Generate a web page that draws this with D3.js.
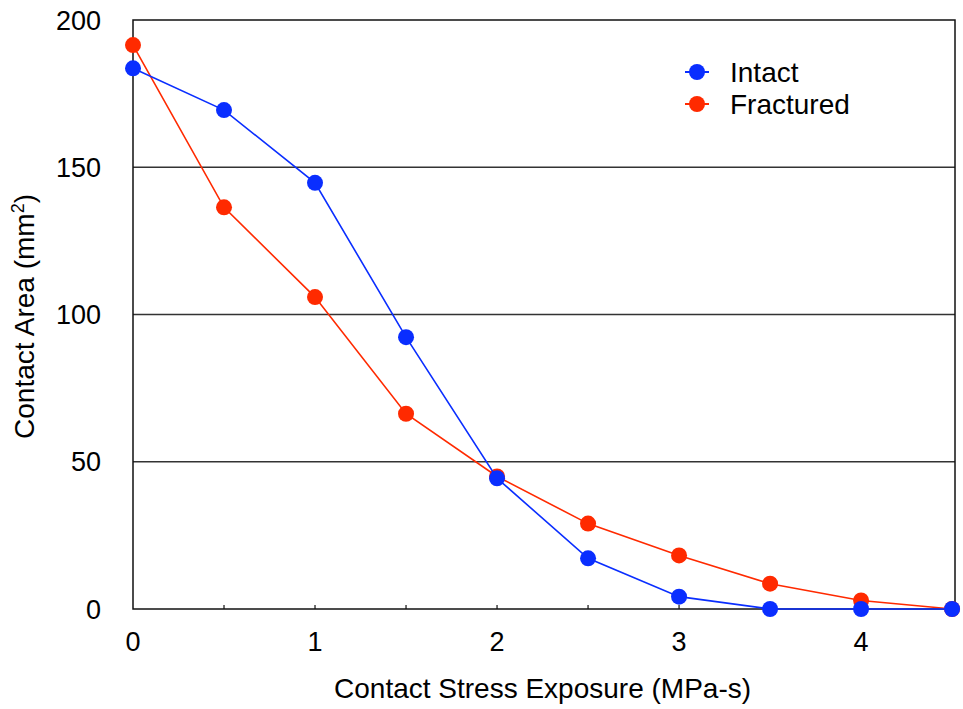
<!DOCTYPE html>
<html>
<head>
<meta charset="utf-8">
<script src="https://cdn.jsdelivr.net/npm/d3@7"></script>
<style>
  body { margin: 0; background: #fff; }
  text { font-family: Arial, "Liberation Sans", sans-serif; fill: #000; }
</style>
</head>
<body>
<svg id="chart" width="963" height="709"></svg>
<script>
const exposure = [0, 0.5, 1, 1.5, 2, 2.5, 3, 3.5, 4, 4.5];
const intact = [183.6, 169.4, 144.7, 92.3, 44.4, 17.2, 4.2, 0, 0, 0];
const fractured = [191.5, 136.4, 105.9, 66.3, 45, 29, 18.2, 8.6, 2.9, 0];
const xTicks = [0, 1, 2, 3, 4];
const yTicks = [0, 50, 100, 150, 200];
const seriesNames = ["Intact", "Fractured"];

const svg = d3.select("#chart"),
    margin = { top: 20, left: 133 },
    chartWidth = 822,
    chartHeight = 589;

const chart = svg.append("g")
    .attr("transform", `translate(${margin.left},${margin.top})`);

const x = d3.scaleLinear().domain([0, 4.516]).range([0, chartWidth]);
const y = d3.scaleLinear().domain([0, 200]).range([chartHeight, 0]);

const color = d3.scaleOrdinal().domain(seriesNames).range(["#0a2eff", "#ff2a00"]);

// gridlines
chart.append("g")
    .selectAll("line")
    .data(yTicks.filter(d => d > 0 && d < 200))
    .join("line")
    .attr("x1", 0).attr("x2", chartWidth)
    .attr("y1", d => y(d)).attr("y2", d => y(d))
    .attr("stroke", "#333").attr("stroke-width", 1.5);

// frame
chart.append("rect")
    .attr("width", chartWidth).attr("height", chartHeight)
    .attr("fill", "none").attr("stroke", "#111").attr("stroke-width", 1.5);

// minor x ticks (inside, every 0.5)
chart.append("g")
    .selectAll("line")
    .data(exposure.filter(d => d > 0))
    .join("line")
    .attr("x1", d => x(d)).attr("x2", d => x(d))
    .attr("y1", chartHeight).attr("y2", chartHeight - 4)
    .attr("stroke", "#111").attr("stroke-width", 1.2);

// tick labels
chart.append("g")
    .selectAll("text")
    .data(xTicks)
    .join("text")
    .attr("x", d => x(d))
    .attr("y", chartHeight + 42)
    .attr("text-anchor", "middle")
    .style("font-size", "27px")
    .text(d => d);

chart.append("g")
    .selectAll("text")
    .data(yTicks)
    .join("text")
    .attr("x", -32)
    .attr("y", d => y(d) + 9.5)
    .attr("text-anchor", "end")
    .style("font-size", "27px")
    .text(d => d);

// axis titles
chart.append("text")
    .attr("x", x(2.25))
    .attr("y", chartHeight + 89)
    .attr("text-anchor", "middle")
    .style("font-size", "28px")
    .text("Contact Stress Exposure (MPa-s)");

const yTitle = svg.append("text")
    .attr("transform", `translate(34,${margin.top + chartHeight / 2 + 2}) rotate(-90)`)
    .attr("text-anchor", "middle")
    .style("font-size", "28px");
yTitle.append("tspan").text("Contact Area (mm");
yTitle.append("tspan").attr("dy", -10).style("font-size", "18px").text("2");
yTitle.append("tspan").attr("dy", 10).text(")");

// series
const series = [
    { name: "Intact", values: intact },
    { name: "Fractured", values: fractured }
];

const line = d3.line()
    .x((d, i) => x(exposure[i]))
    .y(d => y(d));

// draw fractured first so intact sits on top
[series[1], series[0]].forEach(s => {
    chart.append("path")
        .datum(s.values)
        .attr("d", line)
        .attr("fill", "none")
        .attr("stroke", color(s.name))
        .attr("stroke-width", 1.6);
    chart.append("g")
        .selectAll("circle")
        .data(s.values)
        .join("circle")
        .attr("cx", (d, i) => x(exposure[i]))
        .attr("cy", d => y(d))
        .attr("r", 8)
        .attr("fill", color(s.name));
});

// legend
const legend = svg.append("g").attr("transform", "translate(697, 72)");
seriesNames.forEach((name, i) => {
    const g = legend.append("g").attr("transform", `translate(0, ${i * 32})`);
    g.append("line").attr("x1", -12).attr("x2", 12)
        .attr("stroke", color(name)).attr("stroke-width", 2);
    g.append("circle").attr("r", 8).attr("fill", color(name));
    g.append("text").attr("x", 33).attr("y", 9.5)
        .style("font-size", "28px").text(name);
});
</script>
</body>
</html>
